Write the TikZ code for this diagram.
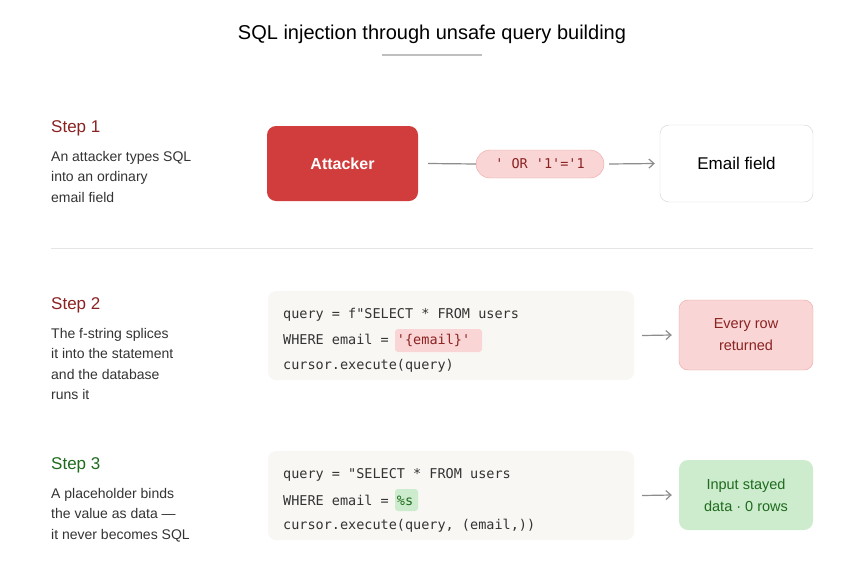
\documentclass[tikz,border=0pt]{standalone}
\usepackage{fontspec}
\setmainfont{Liberation Sans}
\newfontfamily\mono{DejaVu Sans Mono}
\usetikzlibrary{arrows.meta}
\definecolor{dred}{HTML}{8B2222}
\definecolor{dgreen}{HTML}{1E6B1E}
\definecolor{pinkf}{HTML}{F9D5D5}
\definecolor{pinkb}{HTML}{EFA3A3}
\definecolor{greenf}{HTML}{CDEBCD}
\definecolor{codef}{HTML}{F8F7F4}
\definecolor{txt}{HTML}{333333}
\definecolor{attred}{HTML}{D13C3C}
\begin{document}
\begin{tikzpicture}[x=1pt,y=-1pt,
  stp/.style={anchor=west,inner sep=0pt,font=\fontsize{17}{19}\selectfont},
  desc/.style={anchor=north west,align=left,text=txt,font=\fontsize{14}{20.5}\selectfont,inner sep=0pt},
  code/.style={anchor=west,inner sep=0pt,text=txt,font=\mono\fontsize{13.5}{15}\selectfont},
  arr/.style={draw=gray!90,line width=1.2pt,-{Straight Barb[length=5pt,width=9pt]}},
  box/.style={rounded corners=9pt,minimum width=#1,align=center}]
\useasboundingbox (0,0) rectangle (864,584);
\node (title) at (432,34) {\fontsize{20}{22}\selectfont SQL injection through unsafe query building};
\draw[gray!50,line width=1.5pt] (382,55) -- (482,55);
% step 1
\node[stp,text=dred] (s1) at (51,128) {Step 1};
\node[desc] (d1) at (51,151) {An attacker types SQL\\into an ordinary\\email field};
\node[box=151pt,minimum height=75pt,fill=attred,text=white,font=\bfseries\fontsize{16}{18}\selectfont] (att) at (342.5,163.5) {Attacker};
\node[rounded corners=14pt,minimum width=128pt,minimum height=28pt,fill=pinkf,draw=pinkb,text=dred,font=\mono\fontsize{13.5}{15}\selectfont] (pl) at (540,164) {' OR '1'='1};
\node[box=153pt,minimum height=77pt,draw=gray!35,fill=white,font=\fontsize{17}{19}\selectfont] (em) at (736.5,163.5) {Email field};
\draw[gray!90,line width=1.2pt] ([xshift=10pt]att.east) -- (pl.west);
\draw[arr] ([xshift=5pt]pl.east) -- ([xshift=-5pt]em.west);
\draw[gray!20,line width=1pt] (51,248) -- (813,248);
% step 2
\node[stp,text=dred] (s2) at (51,305) {Step 2};
\node[desc] (d2) at (51,328) {The f-string splices\\it into the statement\\and the database\\runs it};
\node[rounded corners=8pt,fill=codef,minimum width=366pt,minimum height=89pt] (c2) at (451,335.5) {};
\fill[pinkf,rounded corners=3pt] (395,329) rectangle (482,352);
\node[code] (l21) at (283,315) {query = f"SELECT * FROM users};
\node[code] (l22) at (283,340) {WHERE email = \textcolor{dred}{'\{email\}'}};
\node[code] (l23) at (283,366) {cursor.execute(query)};
\node[box=134pt,minimum height=70pt,fill=pinkf,draw=pinkb,text=dred,font=\fontsize{14.5}{22}\selectfont] (r2) at (746,335) {Every row\\returned};
\draw[arr] ([xshift=8pt]c2.east) -- ([xshift=-7pt]r2.west);
% step 3
\node[stp,text=dgreen] (s3) at (51,465) {Step 3};
\node[desc] (d3) at (51,488) {A placeholder binds\\the value as data —\\it never becomes SQL};
\node[rounded corners=8pt,fill=codef,minimum width=366pt,minimum height=89pt] (c3) at (451,495.5) {};
\fill[greenf,rounded corners=3pt] (395,489) rectangle (418,511);
\node[code] (l31) at (283,475) {query = "SELECT * FROM users};
\node[code] (l32) at (283,500) {WHERE email = \textcolor{dgreen}{\%s}};
\node[code] (l33) at (283,526) {cursor.execute(query, (email,))};
\node[box=134pt,minimum height=70pt,fill=greenf,text=dgreen,font=\fontsize{14.5}{22}\selectfont] (r3) at (746,495) {Input stayed\\data · 0 rows};
\draw[arr] ([xshift=8pt]c3.east) -- ([xshift=-7pt]r3.west);
\end{tikzpicture}
\end{document}
